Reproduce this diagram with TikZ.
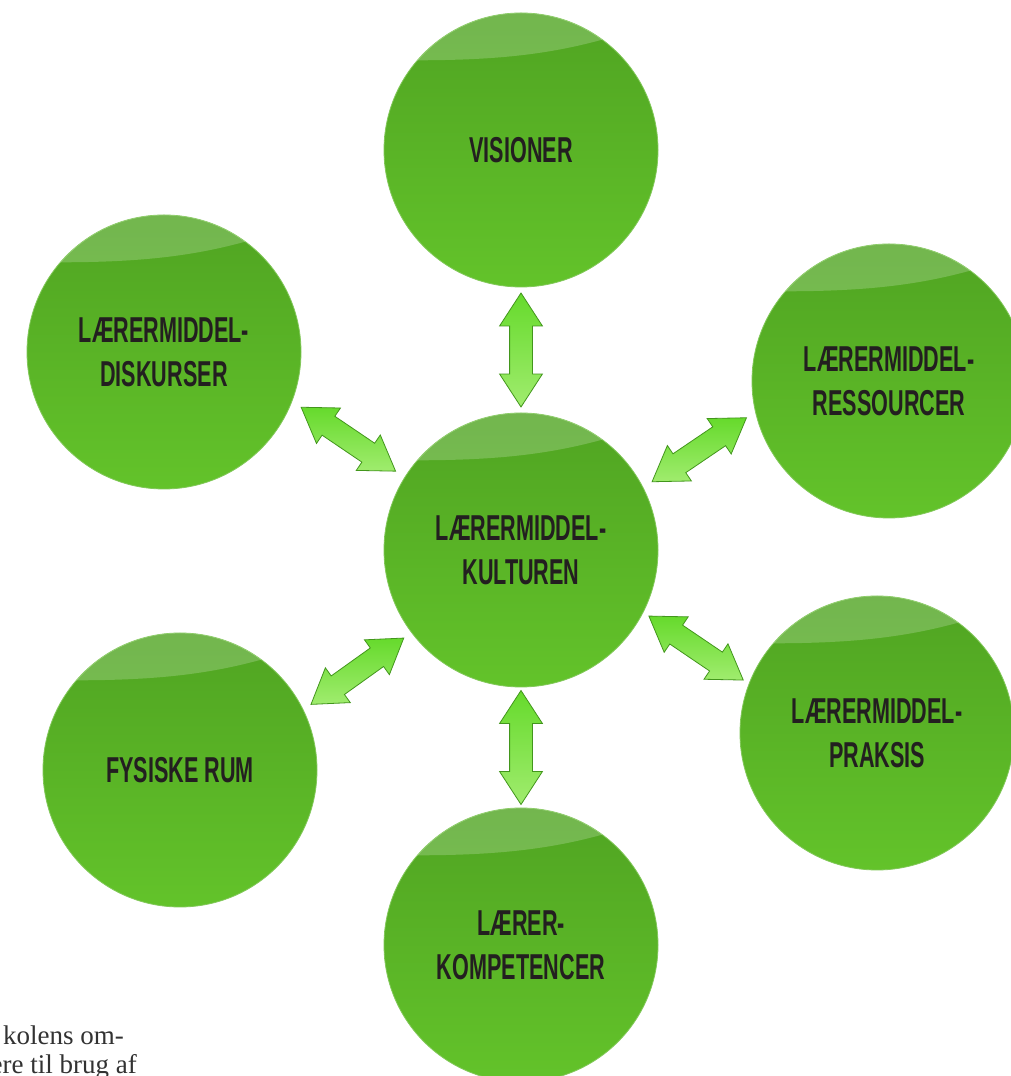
\documentclass[tikz,border=0pt]{standalone}
\usepackage{fontspec}
\setmainfont{Liberation Serif}
\newfontfamily\headfont{Liberation Sans}[FakeStretch=0.6]
\usetikzlibrary{positioning}
\usetikzlibrary{calc}
\usetikzlibrary{shapes.arrows}

\definecolor{ballTop}{RGB}{80,164,34}
\definecolor{ballBot}{RGB}{99,195,42}
\definecolor{ballRim}{RGB}{130,200,90}
\definecolor{arrowFill}{RGB}{102,218,44}
\definecolor{arrowHi}{RGB}{160,236,110}
\definecolor{arrowLine}{RGB}{66,150,28}
\definecolor{textDark}{RGB}{35,31,32}
\definecolor{bodyGray}{RGB}{50,50,50}

\begin{document}
\begin{tikzpicture}[x=1pt, y=1pt,
    ball/.style={circle, minimum size=274pt, inner sep=0pt, top color=ballTop, bottom color=ballBot,
      draw=ballRim, line width=0.8pt, text=textDark, align=center,
      font=\headfont\bfseries\fontsize{36}{44}\selectfont},
    link/.style={double arrow, double arrow head extend=10pt, double arrow tip angle=66,
      minimum height=114pt, inner xsep=0pt, inner ysep=11pt, draw=arrowLine, line width=0.8pt,
      top color=arrowFill, middle color=arrowFill, bottom color=arrowHi, sloped, midway}]
	\useasboundingbox (0,0) rectangle (1011,1076);
	\clip (0,0) rectangle (1011,1076);
	\fill[white] (0,0) rectangle (1011,1076);

	\node[ball] (V1) at (521,926) {VISIONER};
	\node[ball] (D1) at (164,724) {LÆRERMIDDEL-\\DISKURSER};
	\node[ball] (R1) at (889,695) {LÆRERMIDDEL-\\RESSOURCER};
	\node[ball] (K1) at (521,526) {LÆRERMIDDEL-\\KULTUREN};
	\node[ball] (F1) at (180,306) {FYSISKE RUM};
	\node[ball] (P1) at (877,343) {LÆRERMIDDEL-\\PRAKSIS};
	\node[ball] (L1) at (521,131) {LÆRER-\\KOMPETENCER};

	\foreach \n in {V1,D1,R1,K1,F1,P1,L1} {
		\begin{scope}
			\clip (\n) circle (137);
			\fill[white, opacity=0.2] ($(\n)+(-140,90)$) .. controls ($(\n)+(-20,88)$) and ($(\n)+(50,95)$) .. ($(\n)+(140,130)$)
				-- ($(\n)+(140,140)$) -- ($(\n)+(-140,140)$) -- cycle;
		\end{scope}
	}

	\path (K1.90) -- (V1.270) node[link] {};
	\path (K1.148) -- (D1.-21) node[link] {};
	\path (K1.27) -- (R1.193) node[link] {};
	\path (K1.-27) -- (P1.159) node[link] {};
	\path (K1.217) -- (F1.26) node[link] {};
	\path (K1.270) -- (L1.90) node[link] {};

	\node[anchor=base west, inner sep=0pt, text=bodyGray, font=\fontsize{27}{30}\selectfont] (T1) at (3,31) {kolens om-};
	\node[anchor=base east, inner sep=0pt, text=bodyGray, font=\fontsize{27}{30}\selectfont] (T2) at (137,2) {ere til brug af};
\end{tikzpicture}
\end{document}
